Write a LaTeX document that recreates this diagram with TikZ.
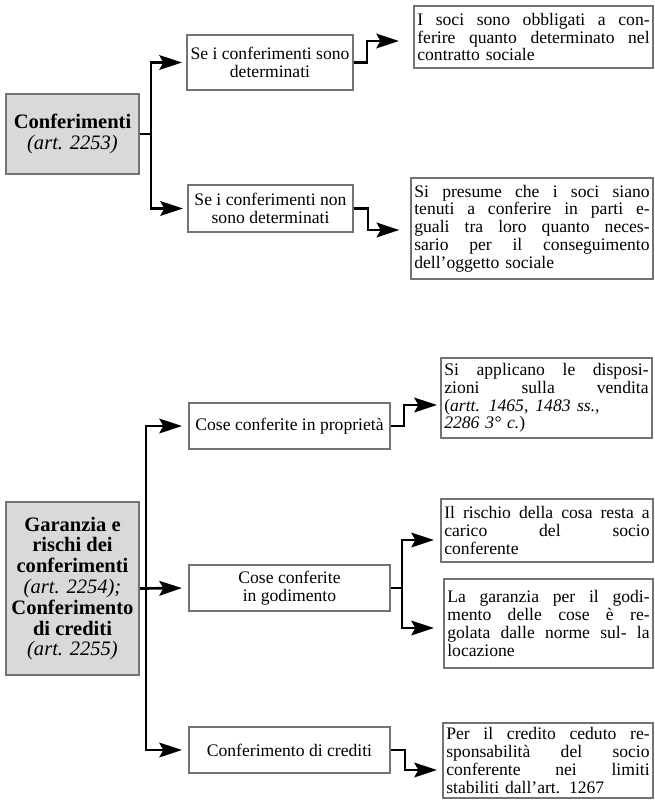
\documentclass[tikz,border=0pt]{standalone}
\usepackage{fontspec}
\setmainfont{Liberation Serif}
\usetikzlibrary{arrows.meta}
\newcommand\jl[1]{\makebox[\hsize][s]{\spaceskip=0.25em plus 1fil\relax #1}}
\newcommand\jw[2]{\makebox[#1][s]{\spaceskip=0.25em plus 1fil\relax #2}}
\begin{document}
\begin{tikzpicture}[x=0.75pt,y=-0.75pt,
  box/.style={draw=black!55, line width=1.5pt, rectangle, inner sep=0pt, inner xsep=2.5pt, text=black},
  mainbox/.style={box, fill=black!15, align=center, minimum width=99.75pt, font=\fontsize{15.4}{15.6}\selectfont},
  midbox/.style={box, fill=white, align=center, minimum width=150.75pt, font=\fontsize{13.2}{13.6}\selectfont},
  resbox/.style={box, fill=white, align=left, font=\fontsize{13.2}{13.3}\selectfont},
  con/.style={line width=2pt, black, line join=miter},
  arr/.style={con, -{Stealth[length=17pt,width=11pt,inset=3pt]}}
]
\useasboundingbox (0,0) rectangle (655,800);

% ---------- top section ----------
\node[mainbox, minimum height=60pt] (A) at (72.5,134)
  {\textbf{Conferimenti}\\\textit{(art. 2253)}};
\node[midbox, minimum width=124.5pt, minimum height=41.25pt] (B1) at (270,62.5)
  {Se i conferimenti sono\\determinati};
\node[midbox, minimum width=123.75pt, minimum height=35.25pt] (B2) at (270.5,208.5)
  {Se i conferimenti non\\sono determinati};
\node[resbox, text width=174.25pt, minimum height=46.5pt] (R1) at (533.5,37)
  {\jl{I soci sono obbligati a con-}\\\jl{ferire quanto determinato nel}\\contratto sociale};
\node[resbox, text width=176.5pt, minimum height=75.75pt] (R2) at (532,228.5)
  {\jl{Si presume che i soci siano}\\\jl{tenuti a conferire in parti e-}\\\jl{guali tra loro quanto neces-}\\\jl{sario per il conseguimento}\\dell’oggetto sociale};

\coordinate (jA) at (151,134);
\coordinate (k1) at (367,41);
\coordinate (k2) at (368,230);
\draw[con] (A.east) -- (jA);
\draw[arr, shorten >=3pt] (jA) |- (B1.west);
\draw[arr, shorten >=3pt] (jA) |- (B2.west);
\draw[arr, shorten >=10.5pt] (B1.east) -| (k1) -- (R1.west |- k1);
\draw[arr, shorten >=8pt] (B2.east) -| (k2) -- (R2.west |- k2);

% ---------- bottom section ----------
\node[mainbox, minimum height=129.75pt] (G) at (72.5,588.5)
  {\textbf{Garanzia e}\\\textbf{rischi dei}\\\textbf{conferimenti}\\\textit{(art. 2254);}\\\textbf{Conferimento}\\\textbf{di crediti}\\\textit{(art. 2255)}};
\node[midbox, minimum height=34.5pt] (C1) at (289.5,426) {Cose conferite in proprietà};
\node[midbox, minimum height=34.5pt] (C2) at (289.5,588) {Cose conferite\\in godimento};
\node[midbox, minimum height=34.5pt] (C3) at (289.5,750) {Conferimento di crediti};

\node[resbox, text width=153.25pt, minimum height=60pt] (R3) at (546.5,398)
  {\jl{Si applicano le disposi-}\\\jl{zioni sulla vendita}\\\jw{0.76\hsize}{(\textit{artt. 1465, 1483 ss.,}}\\\textit{2286 3° c.})};
\node[resbox, text width=154pt, minimum height=47.25pt] (R4) at (547,530.5)
  {\jl{Il rischio della cosa resta a}\\\jl{carico del socio}\\conferente};
\node[resbox, text width=151.75pt, minimum height=66.75pt] (R5) at (548.5,623.5)
  {\jl{La garanzia per il godi-}\\\jl{mento delle cose è re-}\\\jl{golata dalle norme sul- la}\\locazione};
\node[resbox, text width=152.5pt, minimum height=56.25pt] (R6) at (548,760.5)
  {\jl{Per il credito ceduto re-}\\\jl{sponsabilità del socio}\\\jl{conferente nei limiti}\\stabiliti dall’art. 1267};

\coordinate (jG) at (146,588);
\coordinate (k3) at (404,405);
\coordinate (k4) at (402,540);
\coordinate (k5) at (402,628);
\coordinate (k6) at (405,770);
\draw[arr, shorten >=4.5pt] (G.east) -- (C2.west);
\draw[arr, shorten >=4.5pt] (jG) |- (C1.west);
\draw[arr, shorten >=4.5pt] (jG) |- (C3.west);
\draw[arr, shorten >=2.25pt] (C1.east) -| (k3) -- (R3.west |- k3);
\draw[arr, shorten >=4.5pt] (C2.east) -| (k4) -- (R4.west |- k4);
\draw[arr, shorten >=6.75pt] (C2.east) -| (k5) -- (R5.west |- k5);
\draw[arr, shorten >=3.75pt] (C3.east) -| (k6) -- (R6.west |- k6);
\end{tikzpicture}
\end{document}
